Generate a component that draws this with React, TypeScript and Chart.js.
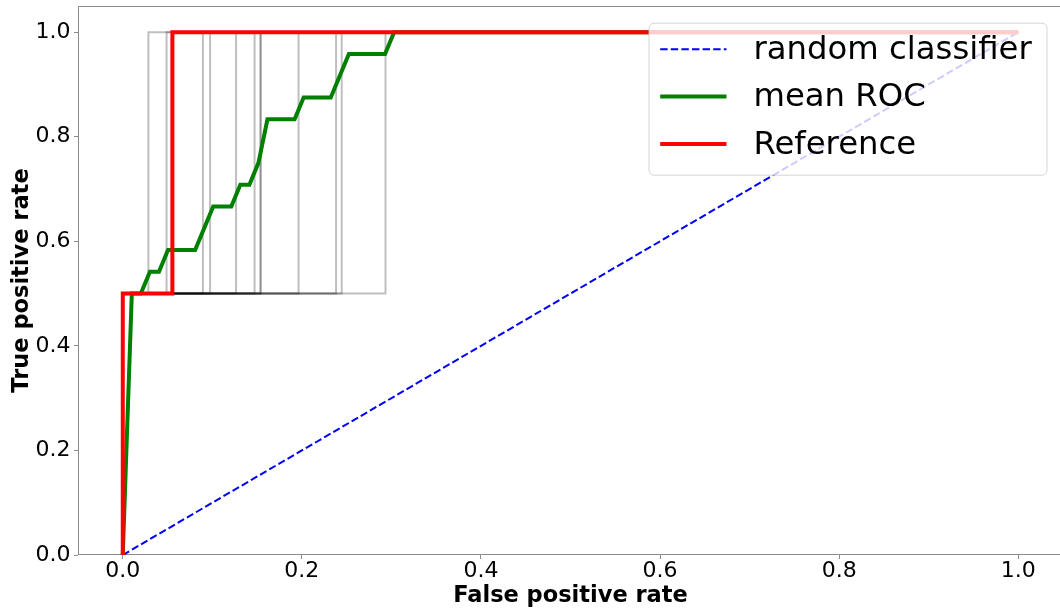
import React, { useEffect, useRef } from "react";
import { Chart, registerables } from "chart.js";

Chart.register(...registerables);

// ---- data ----
const xTicks = [0, 0.2, 0.4, 0.6, 0.8, 1.0];
const yTicks = [0, 0.2, 0.4, 0.6, 0.8, 1.0];

// per-fold ROC: step at TPR 0.5 then jump to 1.0 at the fold's FPR
const foldFpr = [0.0286, 0.0489, 0.0895, 0.0975, 0.1265, 0.1472, 0.1539, 0.1539, 0.1963, 0.2382, 0.2445, 0.2934];
const foldStepTpr = [0.5, 0.5, 0.5, 0.5, 0.5, 0.5, 0.5, 0.5, 0.5, 0.5, 0.5, 0.5];

const meanFpr = [0, 0.0101, 0.0202, 0.0303, 0.0404, 0.0505, 0.0808, 0.101, 0.1212, 0.1313, 0.1414, 0.1515, 0.1616, 0.1919, 0.202, 0.2323, 0.2525, 0.2929, 0.303, 1.0];
const meanTpr = [0, 0.5, 0.5, 0.5417, 0.5417, 0.5833, 0.5833, 0.6667, 0.6667, 0.7083, 0.7083, 0.75, 0.8333, 0.8333, 0.875, 0.875, 0.9583, 0.9583, 1.0, 1.0];

const refFpr = [0, 0, 0.0554, 0.0554, 1.0];
const refTpr = [0, 0.5, 0.5, 1.0, 1.0];

const randomFpr = [0, 1];
const randomTpr = [0, 1];

const legendLabels = ["random classifier", "mean ROC", "Reference"];

const FONT = "DejaVu Sans";
const SPINE = "#8c8c8c";

const zip = (xs: number[], ys: number[]) => xs.map((x, i) => ({ x, y: ys[i] }));

export default function App() {
  const ref = useRef<HTMLCanvasElement | null>(null);

  useEffect(() => {
    document.body.style.margin = "0";
    const canvas = ref.current!;
    const foldSets = foldFpr.map((f, i) => ({
      label: "fold" + i,
      data: zip([0, 0, f, f, 1], [0, foldStepTpr[i], foldStepTpr[i], 1, 1]),
      borderColor: "rgba(0,0,0,0.25)",
      borderWidth: 2,
      pointRadius: 0,
      tension: 0,
      order: 10,
    }));

    const framePlugin = {
      id: "frame",
      beforeDatasetsDraw(chart: any) {
        const { ctx, chartArea: a } = chart;
        ctx.save();
        ctx.strokeStyle = SPINE;
        ctx.lineWidth = 1;
        ctx.strokeRect(Math.round(a.left) + 0.5, Math.round(a.top) + 0.5, a.right - a.left, a.bottom - a.top - 1);
        ctx.restore();
      },
    };

    const legendPlugin = {
      id: "mplLegend",
      afterDraw(chart: any) {
        const { ctx, chartArea: a } = chart;
        const fs = 32.3;
        const right = a.right - 16.5;
        const top = a.top + 16.7;
        const w = 398;
        const h = 152;
        const left = right - w;
        ctx.save();
        ctx.beginPath();
        (ctx as any).roundRect(left + 0.5, top + 0.5, w, h, 5);
        ctx.fillStyle = "rgba(255,255,255,0.8)";
        ctx.fill();
        ctx.strokeStyle = "rgba(204,204,204,0.8)";
        ctx.lineWidth = 1;
        ctx.stroke();
        const styles = [
          { color: "#0000ff", width: 2, dash: [7.4, 3.2] },
          { color: "#008000", width: 4, dash: [] },
          { color: "#ff0000", width: 4, dash: [] },
        ];
        ctx.font = `${fs}px "${FONT}"`;
        ctx.textBaseline = "middle";
        ctx.fillStyle = "#000";
        legendLabels.forEach((lab, i) => {
          const y = top + 26.6 + i * 47.3;
          const s = styles[i];
          ctx.beginPath();
          ctx.setLineDash(s.dash);
          ctx.strokeStyle = s.color;
          ctx.lineWidth = s.width;
          ctx.moveTo(left + 11.7, y);
          ctx.lineTo(left + 78, y);
          ctx.stroke();
          ctx.setLineDash([]);
          ctx.fillText(lab, left + 105, y + 1.5);
        });
        ctx.restore();
      },
    };

    const chart = new Chart(canvas, {
      type: "line",
      data: {
        datasets: [
          {
            label: "Reference",
            data: zip(refFpr, refTpr),
            borderColor: "#ff0000",
            borderWidth: 4,
            pointRadius: 0,
            tension: 0,
            order: 0,
          },
          {
            label: "mean ROC",
            data: zip(meanFpr, meanTpr),
            borderColor: "#008000",
            borderWidth: 4,
            pointRadius: 0,
            tension: 0,
            order: 1,
          },
          {
            label: "random classifier",
            data: zip(randomFpr, randomTpr),
            borderColor: "#0000ff",
            borderWidth: 2,
            borderDash: [7.4, 3.2],
            pointRadius: 0,
            tension: 0,
            order: 2,
          },
          ...foldSets,
        ],
      },
      options: {
        responsive: false,
        animation: false,
        devicePixelRatio: 1,
        layout: { padding: { left: 0, right: 5, top: 6, bottom: 0 } },
        plugins: { legend: { display: false }, tooltip: { enabled: false } },
        scales: {
          x: {
            type: "linear",
            min: -0.05,
            max: 1.05,
            afterBuildTicks: (s: any) => {
              s.ticks = xTicks.map((v) => ({ value: v }));
            },
            afterFit: (s: any) => {
              s.height = 58;
              s.paddingLeft = 0;
              s.paddingRight = 0;
            },
            grid: { display: true, drawOnChartArea: false, drawTicks: true, tickLength: 4, color: SPINE },
            border: { display: false },
            ticks: {
              font: { family: FONT, size: 22 },
              color: "#000",
              padding: -1,
              maxRotation: 0,
              autoSkip: false,
              callback: (v: any) => Number(v).toFixed(1),
            },
            title: {
              display: true,
              text: "False positive rate",
              font: { family: FONT, size: 22.5, weight: "bold" },
              color: "#000",
              padding: { top: 0, bottom: 3 },
            },
          },
          y: {
            type: "linear",
            min: 0,
            max: 1.05,
            afterBuildTicks: (s: any) => {
              s.ticks = yTicks.map((v) => ({ value: v }));
            },
            afterFit: (s: any) => {
              s.width = 78;
              s.paddingTop = 0;
              s.paddingBottom = 0;
            },
            grid: { display: true, drawOnChartArea: false, drawTicks: true, tickLength: 4, color: SPINE },
            border: { display: false },
            ticks: {
              font: { family: FONT, size: 22 },
              color: "#000",
              padding: 3.5,
              autoSkip: false,
              callback: (v: any) => Number(v).toFixed(1),
            },
            title: {
              display: true,
              text: "True positive rate",
              font: { family: FONT, size: 22.5, weight: "bold" },
              color: "#000",
              padding: { top: 9, bottom: 0 },
            },
          },
        },
      },
      plugins: [framePlugin, legendPlugin],
    } as any);
    return () => chart.destroy();
  }, []);

  return (
    <div style={{ width: 1060, height: 613, overflow: "hidden", background: "#fff" }}>
      <canvas ref={ref} width={1068} height={613} style={{ width: 1068, height: 613, display: "block" }} />
    </div>
  );
}
